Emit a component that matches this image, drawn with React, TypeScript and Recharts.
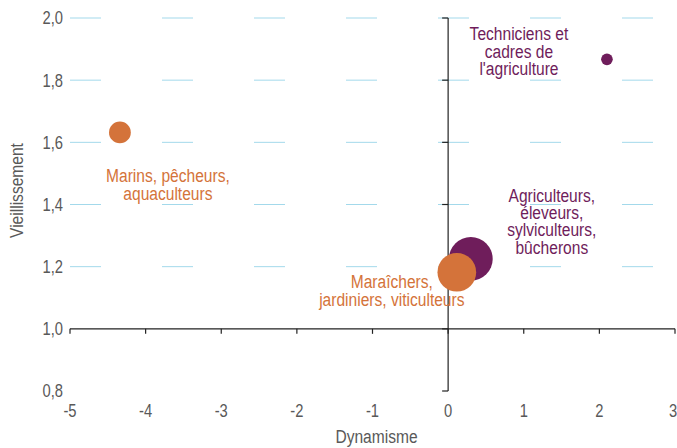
import { ScatterChart, Scatter, XAxis, YAxis, ZAxis, CartesianGrid, ReferenceLine, ReferenceDot } from 'recharts'

const categories = [
  'Marins, pêcheurs, aquaculteurs',
  "Techniciens et cadres de l'agriculture",
  'Agriculteurs, éleveurs, sylviculteurs, bûcherons',
  'Maraîchers, jardiniers, viticulteurs',
]
const labelLines = [
  ['Marins, pêcheurs,', 'aquaculteurs'],
  ['Techniciens et', 'cadres de', "l'agriculture"],
  ['Agriculteurs,', 'éleveurs,', 'sylviculteurs,', 'bûcherons'],
  ['Maraîchers,', 'jardiniers, viticulteurs'],
]
const dynamisme = [-4.34, 2.1, 0.3, 0.115]
const vieillissement = [1.632, 1.867, 1.225, 1.182]
const effectif = [119, 34, 479, 374]

const xTicks = [-5, -4, -3, -2, -1, 0, 1, 2, 3]
const yTicks = [0.8, 1.0, 1.2, 1.4, 1.6, 1.8, 2.0]
const gridValues = [1.2, 1.4, 1.6, 1.8, 2.0]

const ORANGE = '#D4733A'
const PURPLE = '#6F1D5B'
const colors = [ORANGE, PURPLE, PURPLE, ORANGE]
// label position relative to the bubble centre (px): dx = text centre, dy = first baseline
const labelOffsets = [
  { dx: 48, dy: 50 },
  { dx: -88, dy: -19 },
  { dx: 81, dy: -57 },
  { dx: -65, dy: 16 },
]

// no narrow font installed: squeeze Liberation Sans to approximate Arial Narrow
const FONT = "'Liberation Sans', Arial, sans-serif"
const SQUEEZE = 0.82
const GREY = '#595959'

const points = categories.map((name, i) => ({
  name,
  idx: i,
  x: dynamisme[i],
  y: vieillissement[i],
  z: effectif[i],
}))
const zMax = Math.max(...effectif)

function NarrowText({ x, y, anchor = 'middle', fill, size, rotate = 0, lines, lineHeight = 17.3 }: any) {
  return (
    <text
      transform={`translate(${x},${y}) rotate(${rotate}) scale(${SQUEEZE},1)`}
      textAnchor={anchor}
      fill={fill}
      fontSize={size}
      fontFamily={FONT}
    >
      {lines.map((line: string, k: number) => (
        <tspan key={k} x={0} y={k * lineHeight}>
          {line}
        </tspan>
      ))}
    </text>
  )
}

function Bubble(props: any) {
  const { cx, cy, payload } = props
  const i = payload.idx
  const r = props.width ? props.width / 2 : Math.sqrt(props.size / Math.PI)
  const off = labelOffsets[i]
  return (
    <g>
      <circle cx={cx} cy={cy} r={r} fill={colors[i]} />
      <NarrowText x={cx + off.dx} y={cy + off.dy} fill={colors[i]} size={19} lines={labelLines[i]} />
    </g>
  )
}

const XTick = ({ x, y, payload }: any) => (
  <NarrowText x={x} y={y + 0.71 * 18} fill={GREY} size={18} lines={[String(payload.value)]} />
)
const YTick = ({ x, y, payload }: any) => (
  <NarrowText
    x={x}
    y={y + 0.355 * 18}
    anchor="end"
    fill={GREY}
    size={18}
    lines={[Number(payload.value).toFixed(1).replace('.', ',')]}
  />
)

const YTickMark = (p: any) => <line x1={p.cx - 6} y1={p.cy} x2={p.cx} y2={p.cy} stroke="#222" strokeWidth={1.2} />
const XTickMark = (p: any) => <line x1={p.cx} y1={p.cy} x2={p.cx} y2={p.cy + 5} stroke="#222" strokeWidth={1.2} />

const XTitle = ({ viewBox }: any) => (
  <NarrowText x={viewBox.x + viewBox.width / 2 + 4} y={viewBox.y + viewBox.height - 5} fill={GREY} size={19} lines={['Dynamisme']} />
)

const YTitle = ({ viewBox }: any) => (
  <NarrowText
    x={viewBox.x + 23}
    y={viewBox.y + viewBox.height / 2 - 14}
    rotate={-90}
    fill={GREY}
    size={19}
    lines={['Vieillissement']}
  />
)

export default function App() {
  return (
    <div style={{ position: 'absolute', left: 0, top: 0 }}>
      <ScatterChart width={677} height={448} margin={{ top: 18, right: 2, bottom: 0, left: 0 }}>
        <CartesianGrid vertical={false} horizontalValues={gridValues} stroke="#A3D9EB" strokeDasharray="31 61" />
        <XAxis
          type="number"
          dataKey="x"
          domain={[-5, 3]}
          ticks={xTicks}
          axisLine={false}
          tickLine={false}
          tickSize={0}
          tickMargin={13}
          height={57}
          tick={XTick}
          label={{ content: XTitle }}
        />
        <YAxis
          type="number"
          dataKey="y"
          domain={[0.8, 2]}
          ticks={yTicks}
          width={70}
          axisLine={false}
          tickLine={false}
          tickSize={0}
          tickMargin={7}
          tick={YTick}
          label={{ content: YTitle }}
        />
        <ZAxis type="number" dataKey="z" domain={[0, zMax]} range={[0, Math.PI * zMax]} />
        <ReferenceLine x={0} stroke="#222" strokeWidth={1.2} />
        <ReferenceLine y={1} stroke="#222" strokeWidth={1.2} />
        {yTicks.map((v) => (
          <ReferenceDot key={'y' + v} x={0} y={v} r={0} shape={YTickMark} />
        ))}
        {xTicks.map((v) => (
          <ReferenceDot key={'x' + v} x={v} y={1} r={0} shape={XTickMark} />
        ))}
        <Scatter data={points} shape={Bubble} isAnimationActive={false} />
      </ScatterChart>
    </div>
  )
}
